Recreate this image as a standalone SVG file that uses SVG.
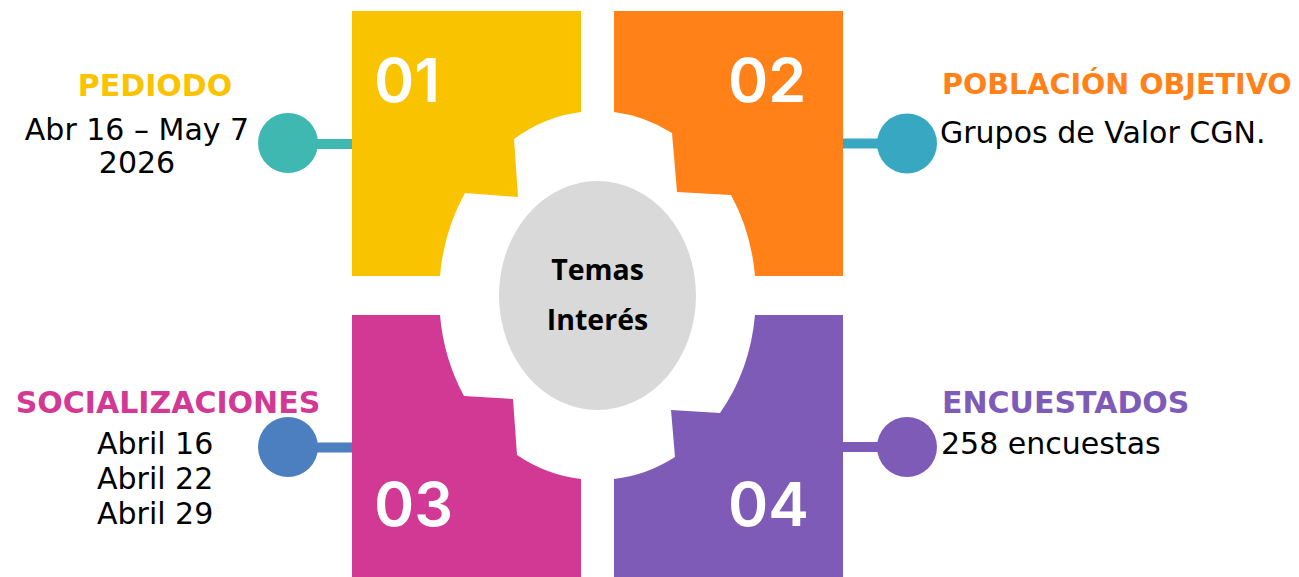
<svg xmlns="http://www.w3.org/2000/svg" width="1299" height="577" viewBox="0 0 1299 577">
<style>
.num{font-family:Inter,"Open Sans","DejaVu Sans",sans-serif;font-weight:600;font-size:61px;fill:#fff}
.head{font-family:"DejaVu Sans",Verdana,sans-serif;font-weight:bold;font-size:30px}
.body{font-family:"DejaVu Sans",Verdana,sans-serif;font-size:30px;fill:#000}
.center{font-family:"Open Sans","DejaVu Sans",sans-serif;font-weight:bold;font-size:28.5px;fill:#000}
.conn{stroke-width:10;fill:none}
</style>
<rect width="1299" height="577" fill="#fff"/>
<g id="connectors">
<line class="conn" x1="288" y1="144" x2="353" y2="144" stroke="#3EB8B1"/>
<circle cx="288" cy="143" r="30" fill="#3EB8B1"/>
<line class="conn" x1="842" y1="143.5" x2="907" y2="143.5" stroke="#38A8C2"/>
<circle cx="907" cy="143.5" r="30" fill="#38A8C2"/>
<line class="conn" x1="288" y1="447.5" x2="353" y2="447.5" stroke="#4B7FC0"/>
<circle cx="288" cy="447" r="30" fill="#4B7FC0"/>
<line class="conn" x1="842" y1="447" x2="907" y2="447" stroke="#7F5BB8"/>
<circle cx="907" cy="447" r="30" fill="#7F5BB8"/>
</g>
<g id="node-01">
<path d="M352,11 H581 V112 A158,185 0 0 0 514,139 L518,197 L465,193 A158,185 0 0 0 440,276 H352 Z" fill="#F9C300"/>
<text class="num" x="374" y="102">01</text>
<text class="head" x="155" y="96" text-anchor="middle" fill="#F9C300">PEDIODO</text>
<text class="body" x="137" y="140" text-anchor="middle">Abr 16 – May 7</text>
<text class="body" x="137" y="173" text-anchor="middle">2026</text>
</g>
<g id="node-02">
<path d="M614,11 H843 V276 H755 A158,185 0 0 0 731,195 L677,192 L672,133 A158,185 0 0 0 614,112 Z" fill="#FF8118"/>
<text class="num" x="728" y="102">02</text>
<text class="head" x="942" y="94" fill="#FF8118" style="font-size:28.6px">POBLACIÓN OBJETIVO</text>
<text class="body" x="940" y="143">Grupos de Valor CGN.</text>
</g>
<g id="node-03">
<path d="M352,315 H440 A158,185 0 0 0 464,396 L513,399 L517,455 A158,185 0 0 0 581,479 V577 H352 Z" fill="#D13994"/>
<text class="num" x="374" y="526">03</text>
<text class="head" x="168" y="413" text-anchor="middle" fill="#D13994">SOCIALIZACIONES</text>
<text class="body" x="97" y="454">Abril 16</text>
<text class="body" x="97" y="489">Abril 22</text>
<text class="body" x="97" y="524">Abril 29</text>
</g>
<g id="node-04">
<path d="M614,479 A158,185 0 0 0 675,457 L671,410 L720,413 A158,185 0 0 0 755,315 H843 V577 H614 Z" fill="#7F5BB8"/>
<text class="num" x="728" y="526">04</text>
<text class="head" x="942" y="413" fill="#7F5BB8">ENCUESTADOS</text>
<text class="body" x="941" y="454">258 encuestas</text>
</g>
<g id="node-center">
<ellipse cx="597.5" cy="295.5" rx="98.5" ry="114.5" fill="#D9D9D9"/>
<text class="center" x="597.5" y="280" text-anchor="middle">Temas</text>
<text class="center" x="597.5" y="330" text-anchor="middle">Interés</text>
</g>
</svg>
